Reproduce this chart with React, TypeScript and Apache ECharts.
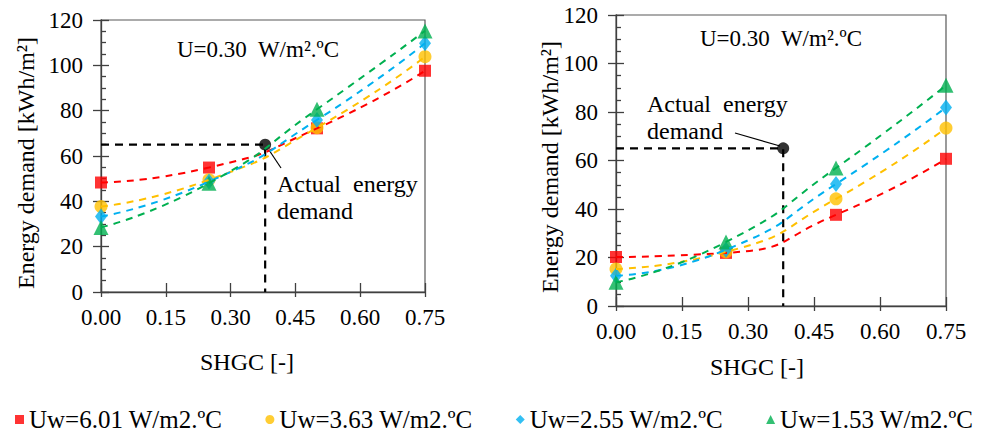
import React, { useEffect, useRef } from "react";
import * as echarts from "echarts";

const shgc = [0, 0.25, 0.5, 0.75];
const seriesNames = [
  "Uw=6.01 W/m2.ºC",
  "Uw=3.63 W/m2.ºC",
  "Uw=2.55 W/m2.ºC",
  "Uw=1.53 W/m2.ºC",
];
const leftUw601 = [48.3, 54.9, 72.2, 97.6];
const leftUw363 = [37.7, 49.5, 72.5, 103.8];
const leftUw255 = [33.3, 48.7, 75.9, 109.7];
const leftUw153 = [28.5, 48.0, 80.6, 115.2];
const rightUw601 = [20.2, 21.9, 37.6, 60.7];
const rightUw363 = [15.3, 22.3, 44.2, 73.4];
const rightUw255 = [12.5, 23.2, 50.3, 81.9];
const rightUw153 = [9.8, 26.4, 56.9, 91.0];
const actualPoint = [0.38, 65];
const xTicks = { min: 0, max: 0.75, interval: 0.15 };
const yTicks = { min: 0, max: 120, interval: 20 };

const colors = ["#FF0000", "#FFC000", "#00B0F0", "#00B050"];
const symbols = ["rect", "circle", "diamond", "triangle"];
const symbolSizes: any[] = [12, 13, [12, 16], 15];
const FONT = "Liberation Serif, serif";
const AXIS_COLOR = "#404040";

export default function App() {
  const ref = useRef<HTMLDivElement>(null);
  useEffect(() => {
    document.body.style.margin = "0";
    const chart = echarts.init(ref.current!, null, { renderer: "svg" });

    const grids = [
      { left: 101, top: 20, width: 324, height: 272 },
      { left: 616, top: 15, width: 330, height: 291 },
    ];
    const dataSets = [
      [leftUw601, leftUw363, leftUw255, leftUw153],
      [rightUw601, rightUw363, rightUw255, rightUw153],
    ];

    const xAxis: any[] = [];
    const yAxis: any[] = [];
    const series: any[] = [];

    grids.forEach((_, g) => {
      xAxis.push({
        type: "value",
        gridIndex: g,
        position: "bottom",
        ...xTicks,
        axisLine: { show: true, onZero: false, lineStyle: { color: AXIS_COLOR, width: 1.3 } },
        axisTick: { show: true, inside: false, length: 5, lineStyle: { color: AXIS_COLOR, width: 1.3 } },
        axisLabel: {
          formatter: (v: number) => v.toFixed(2),
          margin: 14,
          fontSize: 23,
          fontFamily: FONT,
          color: "#000",
        },
        splitLine: { show: false },
      });
      xAxis.push({
        type: "value",
        gridIndex: g,
        position: "bottom",
        ...xTicks,
        axisLine: { show: false, onZero: false },
        axisTick: { show: true, inside: true, length: 9, lineStyle: { color: AXIS_COLOR, width: 1.3 } },
        axisLabel: { show: false },
        splitLine: { show: false },
      });
      yAxis.push({
        type: "value",
        gridIndex: g,
        position: "left",
        ...yTicks,
        axisLine: { show: true, onZero: false, lineStyle: { color: AXIS_COLOR, width: 1.3 } },
        axisTick: { show: true, inside: false, length: 8, lineStyle: { color: AXIS_COLOR, width: 1.3 } },
        axisLabel: { margin: 18, fontSize: 23, fontFamily: FONT, color: "#000" },
        splitLine: { show: false },
      });
      yAxis.push({
        type: "value",
        gridIndex: g,
        position: "left",
        ...yTicks,
        axisLine: { show: false, onZero: false },
        axisTick: { show: true, inside: true, length: 8, lineStyle: { color: AXIS_COLOR, width: 1.3 } },
        minorTick: { show: true, splitNumber: 4, length: 5, lineStyle: { color: AXIS_COLOR, width: 1.3 } },
        axisLabel: { show: false },
        splitLine: { show: false },
      });

      const xi = 2 * g;
      const yi = 2 * g;
      series.push({
        type: "line",
        xAxisIndex: xi,
        yAxisIndex: yi,
        data: [[0, actualPoint[1]], [actualPoint[0], actualPoint[1]], [actualPoint[0], 0]],
        symbol: "none",
        lineStyle: { color: "#000", width: 2.2, type: [8, 6] },
        silent: true,
        z: 2,
      });
      series.push({
        type: "scatter",
        xAxisIndex: xi,
        yAxisIndex: yi,
        data: [actualPoint],
        symbol: "circle",
        symbolSize: 12,
        itemStyle: { color: "#000" },
        silent: true,
        z: 3,
      });
      dataSets[g].forEach((arr, k) => {
        const pts = shgc.map((x, i) => [x, arr[i]]);
        series.push({
          type: "line",
          xAxisIndex: xi,
          yAxisIndex: yi,
          data: pts,
          smooth: 0.6,
          symbol: "none",
          lineStyle: { color: colors[k], width: 2, type: [7, 6] },
          silent: true,
          z: 4,
        });
        series.push({
          type: "scatter",
          name: seriesNames[k],
          xAxisIndex: xi,
          yAxisIndex: yi,
          data: pts,
          symbol: symbols[k],
          symbolSize: symbolSizes[k],
          itemStyle: { color: colors[k] },
          z: 3,
        });
      });
    });

    const legend = {
      data: seriesNames,
      left: 15,
      top: 407,
      padding: 0,
      width: 972,
      itemWidth: 9,
      itemHeight: 9,
      itemGap: 43,
      textStyle: { fontSize: 25, lineHeight: 22, fontFamily: FONT, color: "#000" },
    };

    const txt = (x: number, y: number, text: string, extra: any = {}) => ({
      type: "text",
      x,
      y,
      silent: true,
      style: {
        text,
        fontSize: 23,
        fontFamily: FONT,
        fill: "#000",
        align: "center",
        verticalAlign: "middle",
        ...extra,
      },
    });

    const graphic: any[] = [
      txt(258, 49, "U=0.30  W/m².ºC"),
      txt(781, 38, "U=0.30  W/m².ºC"),
      {
        ...txt(26, 163, "Energy demand [kWh/m²]", { fontSize: 24 }),
        rotation: Math.PI / 2,
      },
      {
        ...txt(550, 167, "Energy demand [kWh/m²]", { fontSize: 24 }),
        rotation: Math.PI / 2,
      },
      txt(247, 362, "SHGC [-]", { fontSize: 24 }),
      txt(757, 367, "SHGC [-]", { fontSize: 24 }),
      txt(277, 197, "Actual  energy\ndemand", { align: "left", lineHeight: 27, fontSize: 24 }),
      txt(647, 117, "Actual  energy\ndemand", { align: "left", lineHeight: 27, fontSize: 24 }),
      {
        type: "line",
        silent: true,
        shape: { x1: 269, y1: 150, x2: 281, y2: 168 },
        style: { stroke: "#000", lineWidth: 1.2 },
      },
      {
        type: "line",
        silent: true,
        shape: { x1: 735, y1: 133, x2: 780, y2: 146 },
        style: { stroke: "#000", lineWidth: 1.2 },
      },
    ];

    chart.setOption({
      animation: false,
      backgroundColor: "#fff",
      grid: grids.map((gr) => ({ ...gr, show: true, borderColor: "#595959", borderWidth: 1.2, backgroundColor: "transparent" })),
      xAxis,
      yAxis,
      series,
      legend,
      graphic,
    });
    return () => chart.dispose();
  }, []);
  return <div ref={ref} style={{ width: 987, height: 432 }} />;
}
